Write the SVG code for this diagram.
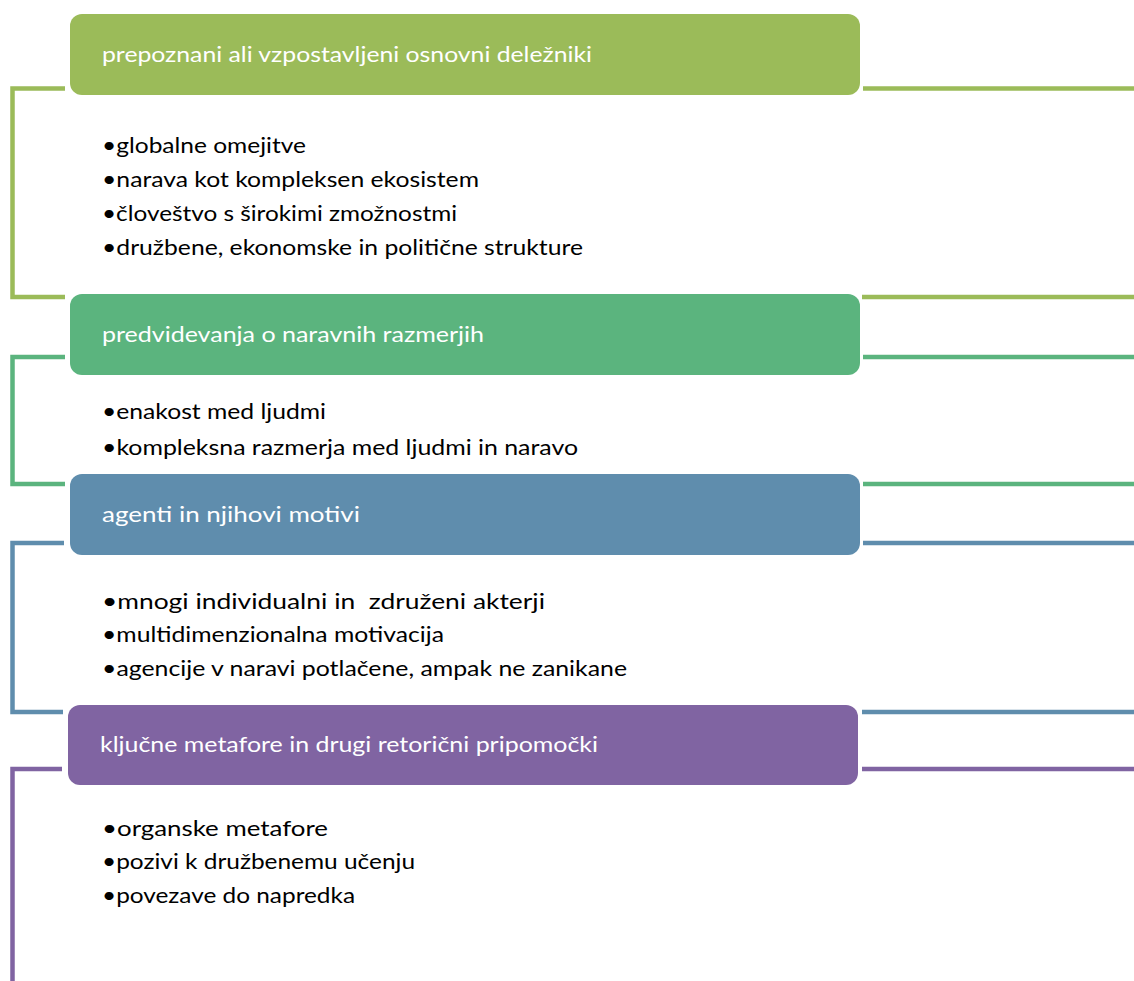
<svg xmlns="http://www.w3.org/2000/svg" width="1134" height="981" viewBox="0 0 1134 981">
<style>
.title{font-family:Lato,"Open Sans","Liberation Sans",sans-serif;font-size:21px;fill:#ffffff}
.item{font-family:Lato,"Open Sans","Liberation Sans",sans-serif;font-size:21px;fill:#000000}
.br{fill:none;stroke-width:4.5}
.c1{stroke:#9BBB59}.c2{stroke:#5BB47E}.c3{stroke:#5F8DAD}.c4{stroke:#8064A2}
</style>
<rect width="1134" height="981" fill="#ffffff"/>
<g id="connectors">
<polyline class="br c1" points="65,88.5 12.5,88.5 12.5,297 65,297"/>
<line class="br c1" x1="863" y1="88.5" x2="1134" y2="88.5"/>
<line class="br c1" x1="862" y1="297" x2="1134" y2="297"/>
<polyline class="br c2" points="65,357 12.5,357 12.5,484 65,484"/>
<line class="br c2" x1="863" y1="357" x2="1134" y2="357"/>
<line class="br c2" x1="863" y1="484" x2="1134" y2="484"/>
<polyline class="br c3" points="64,543 12.5,543 12.5,712 63,712"/>
<line class="br c3" x1="863" y1="543" x2="1134" y2="543"/>
<line class="br c3" x1="862" y1="712" x2="1134" y2="712"/>
<polyline class="br c4" points="62,769 12.5,769 12.5,981"/>
<line class="br c4" x1="862" y1="769" x2="1134" y2="769"/>
</g>
<g id="node1">
<rect x="70" y="14" width="790" height="81" rx="12" fill="#9BBB59"/>
<text class="title" x="102" y="62" textLength="490" lengthAdjust="spacingAndGlyphs">prepoznani ali vzpostavljeni osnovni deležniki</text>
<text class="item" x="102" y="153" textLength="204" lengthAdjust="spacingAndGlyphs">•globalne omejitve</text>
<text class="item" x="102" y="187" textLength="377" lengthAdjust="spacingAndGlyphs">•narava kot kompleksen ekosistem</text>
<text class="item" x="102" y="221" textLength="355" lengthAdjust="spacingAndGlyphs">•človeštvo s širokimi zmožnostmi</text>
<text class="item" x="102" y="255" textLength="481" lengthAdjust="spacingAndGlyphs">•družbene, ekonomske in politične strukture</text>
</g>
<g id="node2">
<rect x="70" y="294" width="790" height="81" rx="12" fill="#5BB47E"/>
<text class="title" x="102" y="342" textLength="382" lengthAdjust="spacingAndGlyphs">predvidevanja o naravnih razmerjih</text>
<text class="item" x="102" y="419" textLength="224" lengthAdjust="spacingAndGlyphs">•enakost med ljudmi</text>
<text class="item" x="102" y="455" textLength="476" lengthAdjust="spacingAndGlyphs">•kompleksna razmerja med ljudmi in naravo</text>
</g>
<g id="node3">
<rect x="70" y="474" width="790" height="81" rx="12" fill="#5F8DAD"/>
<text class="title" x="102" y="522" textLength="258" lengthAdjust="spacingAndGlyphs">agenti in njihovi motivi</text>
<text class="item" x="102" y="609" textLength="443" lengthAdjust="spacingAndGlyphs" xml:space="preserve">•mnogi individualni in  združeni akterji</text>
<text class="item" x="102" y="642" textLength="342" lengthAdjust="spacingAndGlyphs">•multidimenzionalna motivacija</text>
<text class="item" x="102" y="676" textLength="525" lengthAdjust="spacingAndGlyphs">•agencije v naravi potlačene, ampak ne zanikane</text>
</g>
<g id="node4">
<rect x="68" y="705" width="790" height="80" rx="12" fill="#8064A2"/>
<text class="title" x="100" y="752" textLength="498" lengthAdjust="spacingAndGlyphs">ključne metafore in drugi retorični pripomočki</text>
<text class="item" x="102" y="836" textLength="226" lengthAdjust="spacingAndGlyphs">•organske metafore</text>
<text class="item" x="102" y="869" textLength="313" lengthAdjust="spacingAndGlyphs">•pozivi k družbenemu učenju</text>
<text class="item" x="102" y="903" textLength="253" lengthAdjust="spacingAndGlyphs">•povezave do napredka</text>
</g>
</svg>
